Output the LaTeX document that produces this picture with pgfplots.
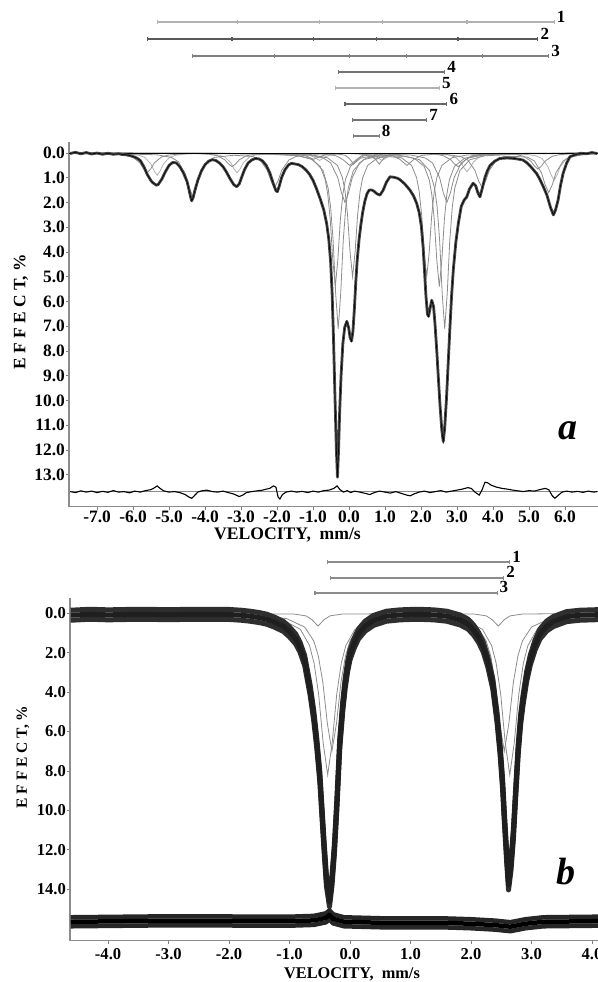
\documentclass[border=0pt]{standalone}
\usepackage{fontspec}
\setmainfont{Liberation Serif}
\usepackage{pgfplots}
\usepackage{pgfplotstable}
\pgfplotsset{compat=1.18}
\pgfkeys{/pgf/number format/assume math mode=true}

\pgfplotstableread{
x y
-7.75 0.02
-7.6 -0.03
-7.45 0.03
-7.3 -0.02
-7.15 0.04
-7.0 0.0
-6.85 0.05
-6.7 0.01
-6.55 0.05
-6.4 0.03
-6.3 0.06
-6.2 0.07
-6.1 0.1
-6.0 0.14
-5.9 0.2
-5.8 0.3
-5.7 0.55
-5.6 0.88
-5.5 1.12
-5.45 1.2
-5.4 1.25
-5.35 1.3
-5.3 1.27
-5.2 1.05
-5.1 0.75
-5.0 0.5
-4.9 0.38
-4.8 0.4
-4.7 0.55
-4.6 0.8
-4.5 1.15
-4.45 1.45
-4.4 1.78
-4.37 1.93
-4.33 1.8
-4.28 1.5
-4.2 1.1
-4.1 0.72
-4.0 0.47
-3.9 0.33
-3.8 0.27
-3.7 0.3
-3.6 0.4
-3.5 0.55
-3.4 0.78
-3.3 1.05
-3.2 1.28
-3.12 1.36
-3.05 1.25
-3.0 1.05
-2.9 0.66
-2.8 0.4
-2.7 0.28
-2.6 0.22
-2.5 0.24
-2.4 0.32
-2.3 0.5
-2.2 0.8
-2.1 1.25
-2.03 1.52
-1.99 1.56
-1.94 1.35
-1.87 0.98
-1.78 0.68
-1.68 0.48
-1.6 0.42
-1.5 0.44
-1.4 0.47
-1.3 0.55
-1.2 0.68
-1.1 0.85
-1.0 1.1
-0.9 1.45
-0.8 1.85
-0.7 2.3
-0.62 2.85
-0.56 3.5
-0.51 4.4
-0.47 5.6
-0.43 7.5
-0.39 9.8
-0.35 12.0
-0.32 13.1
-0.29 12.0
-0.26 10.5
-0.22 9.0
-0.17 7.7
-0.12 7.05
-0.06 6.8
-0.01 7.05
0.03 7.45
0.07 7.6
0.11 7.2
0.15 6.3
0.19 5.2
0.23 4.3
0.28 3.5
0.33 2.9
0.38 2.4
0.44 1.95
0.5 1.65
0.56 1.5
0.63 1.49
0.7 1.55
0.78 1.65
0.86 1.7
0.95 1.5
1.04 1.18
1.14 0.96
1.25 0.98
1.35 1.02
1.42 1.08
1.55 1.25
1.69 1.49
1.8 1.75
1.88 2.03
1.95 2.4
2.01 2.95
2.06 3.8
2.1 4.8
2.14 5.8
2.18 6.5
2.21 6.6
2.25 6.3
2.3 5.95
2.35 6.2
2.39 6.9
2.44 8.0
2.48 9.0
2.53 10.2
2.58 11.2
2.62 11.66
2.66 11.1
2.71 9.9
2.76 8.4
2.8 7.2
2.85 5.8
2.9 4.7
2.97 3.6
3.04 2.83
3.12 2.15
3.2 1.9
3.27 1.78
3.35 1.45
3.45 1.22
3.52 1.32
3.58 1.6
3.64 1.77
3.7 1.45
3.78 0.98
3.85 0.7
3.92 0.5
4.05 0.33
4.19 0.22
4.4 0.2
4.6 0.22
4.83 0.28
4.95 0.4
5.05 0.55
5.15 0.72
5.21 0.82
5.3 1.05
5.4 1.36
5.5 1.7
5.6 2.2
5.68 2.5
5.74 2.3
5.81 1.9
5.88 1.3
5.95 0.82
6.05 0.4
6.14 0.15
6.3 0.06
6.45 0.01
6.6 0.03
6.75 -0.02
6.9 0.02
}\dataA

\pgfplotstableread{
x y
-7.75 13.68
-7.6 13.72
-7.45 13.65
-7.3 13.7
-7.15 13.66
-7.0 13.72
-6.85 13.67
-6.7 13.71
-6.55 13.64
-6.4 13.7
-6.25 13.68
-6.1 13.73
-5.95 13.66
-5.8 13.7
-5.65 13.64
-5.5 13.6
-5.4 13.52
-5.33 13.45
-5.25 13.55
-5.15 13.65
-5.0 13.7
-4.85 13.68
-4.7 13.72
-4.55 13.8
-4.45 13.9
-4.37 13.95
-4.3 13.85
-4.2 13.7
-4.1 13.65
-3.95 13.62
-3.8 13.68
-3.65 13.7
-3.5 13.66
-3.35 13.72
-3.2 13.78
-3.05 13.88
-2.95 13.82
-2.85 13.72
-2.7 13.68
-2.55 13.65
-2.4 13.62
-2.3 13.58
-2.2 13.55
-2.1 13.45
-2.03 13.5
-1.97 13.9
-1.92 13.98
-1.85 13.8
-1.75 13.7
-1.6 13.66
-1.45 13.7
-1.3 13.67
-1.15 13.72
-1.0 13.66
-0.85 13.7
-0.7 13.64
-0.55 13.62
-0.42 13.55
-0.33 13.45
-0.25 13.6
-0.15 13.7
-0.05 13.64
0.05 13.72
0.15 13.66
0.3 13.7
0.45 13.75
0.58 13.8
0.7 13.72
0.85 13.66
1.0 13.7
1.15 13.74
1.3 13.68
1.45 13.75
1.6 13.82
1.7 13.85
1.8 13.78
1.95 13.7
2.1 13.66
2.25 13.72
2.4 13.68
2.55 13.64
2.7 13.7
2.85 13.66
3.0 13.62
3.15 13.58
3.3 13.52
3.4 13.55
3.5 13.7
3.62 13.82
3.7 13.6
3.78 13.3
3.85 13.32
3.95 13.42
4.1 13.5
4.25 13.55
4.4 13.58
4.55 13.62
4.7 13.65
4.85 13.68
5.0 13.64
5.15 13.66
5.3 13.6
5.45 13.55
5.55 13.6
5.65 13.85
5.72 13.95
5.8 13.85
5.92 13.7
6.05 13.66
6.2 13.7
6.35 13.67
6.5 13.71
6.65 13.66
6.8 13.7
6.9 13.68
}\residA

\pgfplotstableread{
x y
-4.62 0.1
-4.3 0.05
-4.0 0.08
-3.5 0.05
-3.0 0.07
-2.5 0.05
-2.0 0.06
-1.8 0.1
-1.65 0.15
-1.5 0.22
-1.38 0.3
-1.25 0.45
-1.1 0.67
-1.0 0.95
-0.9 1.3
-0.83 1.7
-0.75 2.4
-0.66 3.9
-0.6 5.2
-0.55 6.6
-0.5 8.3
-0.47 9.8
-0.43 11.8
-0.39 13.6
-0.34 14.63
-0.3 13.6
-0.26 12.0
-0.22 9.8
-0.17 6.6
-0.12 4.7
-0.08 3.55
-0.04 2.7
0.0 2.1
0.07 1.5
0.14 1.05
0.25 0.65
0.39 0.36
0.6 0.15
0.83 0.08
1.1 0.05
1.38 0.08
1.6 0.15
1.82 0.34
1.95 0.55
2.04 0.84
2.12 1.2
2.2 1.7
2.28 2.5
2.36 3.6
2.43 5.3
2.48 6.9
2.52 8.6
2.55 10.3
2.59 12.4
2.62 13.78
2.66 12.8
2.7 11.2
2.74 9.0
2.78 6.9
2.82 5.4
2.86 4.4
2.92 3.2
2.98 2.37
3.06 1.6
3.14 1.05
3.25 0.65
3.36 0.42
3.58 0.17
3.8 0.1
4.1 0.07
}\dataB

\pgfplotstableread{
x y
-4.62 15.65
-3.0 15.6
-1.0 15.62
-0.6 15.58
-0.4 15.45
-0.34 15.3
-0.28 15.5
-0.1 15.65
0.5 15.7
1.5 15.7
2.0 15.75
2.4 15.82
2.65 15.9
2.9 15.75
3.2 15.65
4.1 15.62
}\residB

\pgfplotsset{
  mb/.style={scale only axis, y dir=reverse,
    axis x line*=bottom, axis y line*=left,
    axis line style={black!45, line width=1.2bp},
    tick align=outside, major tick length=3bp,
    tick style={black!50, line width=0.8bp},
    clip=false,
    xticklabel style={/pgf/number format/fixed, /pgf/number format/fixed zerofill, /pgf/number format/precision=1, inner sep=0pt},
    yticklabel style={/pgf/number format/fixed, /pgf/number format/fixed zerofill, /pgf/number format/precision=1, inner sep=0pt},
  },
  comp/.style={black!45, line width=0.8bp},
  bar/.style={line width=1.1bp, mark=|, mark size=2.2bp, mark options={solid}},
}
\tikzset{barlab/.style={anchor=base west, inner sep=0pt, xshift=2.5bp, font=\fontsize{17bp}{19bp}\selectfont\bfseries}}

\begin{document}
\begin{tikzpicture}
\useasboundingbox (0,0) rectangle (598bp,982bp);

% ---------------- panel a ----------------
\begin{axis}[mb,
  at={(69bp,475.3bp)}, anchor=south west,
  width=529bp, height=364.8bp,
  xmin=-7.78, xmax=6.92, ymin=-0.45, ymax=14.29,
  xtick={-7,-6,...,6}, ytick={0,1,...,13},
  tick label style={font=\fontsize{17.4bp}{20bp}\selectfont\bfseries},
  xticklabel style={yshift=-1bp},
  yticklabel style={xshift=-1bp},
]
% splitting bars
\addplot[bar, black!30] coordinates {(-5.33,-5.293) (-3.11,-5.293) (-0.82,-5.293) (0.92,-5.293) (3.28,-5.293) (5.70,-5.293)};
\addplot[bar, black!65] coordinates {(-5.61,-4.606) (-3.25,-4.606) (-0.98,-4.606) (0.76,-4.606) (3.03,-4.606) (5.25,-4.606)};
\addplot[bar, black!50] coordinates {(-4.34,-3.919) (-2.07,-3.919) (0.02,-3.919) (1.61,-3.919) (3.70,-3.919) (5.55,-3.919)};
\addplot[bar, black!55] coordinates {(-0.30,-3.273) (2.66,-3.273)};
\addplot[bar, black!30] coordinates {(-0.38,-2.626) (2.51,-2.626)};
\addplot[bar, black!60] coordinates {(-0.11,-1.98) (2.72,-1.98)};
\addplot[bar, black!55] coordinates {(0.10,-1.333) (2.16,-1.333)};
\addplot[bar, black!50] coordinates {(0.13,-0.687) (0.84,-0.687)};
\node[barlab] at (axis cs:5.70,-5.293) {1};
\node[barlab] at (axis cs:5.25,-4.606) {2};
\node[barlab] at (axis cs:5.55,-3.919) {3};
\node[barlab] at (axis cs:2.66,-3.273) {4};
\node[barlab] at (axis cs:2.51,-2.626) {5};
\node[barlab] at (axis cs:2.72,-1.98) {6};
\node[barlab] at (axis cs:2.16,-1.333) {7};
\node[barlab] at (axis cs:0.84,-0.687) {8};

% component subspectra
\addplot[comp, black!30] coordinates {(-7.78,0.01) (-6.18,0.03) (-5.84,0.09) (-5.67,0.18) (-5.50,0.45) (-5.415,0.72) (-5.33,0.9) (-5.245,0.72) (-5.16,0.45) (-4.99,0.18) (-4.82,0.09) (-4.48,0.03) (-3.96,0.03) (-3.62,0.08) (-3.45,0.16) (-3.28,0.4) (-3.195,0.64) (-3.11,0.8) (-3.025,0.64) (-2.94,0.4) (-2.77,0.16) (-2.60,0.08) (-2.26,0.03) (-1.50,0.02) (-1.16,0.06) (-0.99,0.15) (-0.82,0.3) (-0.65,0.15) (-0.48,0.06) (-0.14,0.02) (0.24,0.02) (0.58,0.06) (0.75,0.15) (0.92,0.3) (1.09,0.15) (1.26,0.06) (1.60,0.02) (2.43,0.03) (2.77,0.075) (2.94,0.15) (3.11,0.375) (3.195,0.6) (3.28,0.75) (3.365,0.6) (3.45,0.375) (3.62,0.15) (3.79,0.075) (4.13,0.03) (4.85,0.04) (5.19,0.11) (5.36,0.22) (5.53,0.55) (5.615,0.88) (5.70,1.1) (5.785,0.88) (5.87,0.55) (6.04,0.22) (6.21,0.11) (6.55,0.04) (6.92,0.02)};
\addplot[comp] coordinates {(-7.78,0.01) (-6.61,0.03) (-6.21,0.08) (-6.01,0.16) (-5.81,0.4) (-5.71,0.64) (-5.61,0.8) (-5.51,0.64) (-5.41,0.4) (-5.21,0.16) (-5.01,0.08) (-4.61,0.03) (-4.25,0.02) (-3.85,0.055) (-3.65,0.11) (-3.45,0.275) (-3.35,0.44) (-3.25,0.55) (-3.15,0.44) (-3.05,0.275) (-2.85,0.11) (-2.65,0.055) (-2.25,0.02) (-1.78,0.015) (-1.38,0.05) (-1.18,0.125) (-0.98,0.25) (-0.78,0.125) (-0.58,0.05) (-0.18,0.015) (-0.04,0.015) (0.36,0.05) (0.56,0.125) (0.76,0.25) (0.96,0.125) (1.16,0.05) (1.56,0.015) (2.03,0.02) (2.43,0.055) (2.63,0.11) (2.83,0.275) (2.93,0.44) (3.03,0.55) (3.13,0.44) (3.23,0.275) (3.43,0.11) (3.63,0.055) (4.03,0.02) (4.25,0.025) (4.65,0.065) (4.85,0.13) (5.05,0.325) (5.15,0.52) (5.25,0.65) (5.35,0.52) (5.45,0.325) (5.65,0.13) (5.85,0.065) (6.25,0.025) (6.92,0.01)};
\addplot[comp] coordinates {(-7.78,0.02) (-5.9,0.05) (-5.34,0.07) (-4.94,0.175) (-4.74,0.35) (-4.54,0.875) (-4.44,1.4) (-4.34,1.75) (-4.24,1.4) (-4.14,0.875) (-3.94,0.35) (-3.74,0.175) (-3.2,0.09) (-2.67,0.14) (-2.47,0.28) (-2.27,0.7) (-2.17,1.12) (-2.07,1.4) (-1.97,1.12) (-1.87,0.7) (-1.67,0.28) (-1.47,0.14) (-1.07,0.055) (-0.78,0.04) (-0.38,0.1) (-0.18,0.25) (0.02,0.5) (0.22,0.25) (0.42,0.1) (0.82,0.05) (1.21,0.1) (1.41,0.25) (1.61,0.5) (1.81,0.25) (2.01,0.1) (2.41,0.04) (2.70,0.055) (3.10,0.14) (3.30,0.28) (3.50,0.7) (3.60,1.12) (3.70,1.4) (3.80,1.12) (3.90,0.7) (4.10,0.28) (4.30,0.14) (4.62,0.14) (4.95,0.16) (5.15,0.32) (5.35,0.8) (5.45,1.28) (5.55,1.6) (5.65,1.28) (5.75,0.8) (5.95,0.32) (6.15,0.16) (6.55,0.06) (6.92,0.03)};
\addplot[comp] coordinates {(-7.78,0.0) (-4,0.01) (-2.5,0.03) (-1.42,0.11) (-1.0,0.27) (-0.72,0.71) (-0.58,1.42) (-0.51,2.19) (-0.44,3.55) (-0.37,5.68) (-0.30,7.1) (-0.23,5.68) (-0.16,3.55) (-0.09,2.19) (-0.02,1.42) (0.12,0.71) (0.40,0.27) (0.82,0.13) (1.18,0.12) (1.54,0.13) (1.96,0.27) (2.24,0.71) (2.38,1.42) (2.45,2.19) (2.52,3.55) (2.59,5.68) (2.66,7.1) (2.73,5.68) (2.80,3.55) (2.87,2.19) (2.94,1.42) (3.08,0.71) (3.36,0.27) (3.78,0.11) (5,0.03) (6.92,0.01)};
\addplot[comp] coordinates {(-7.78,0.0) (-4,0.01) (-2.5,0.02) (-1.50,0.08) (-1.08,0.21) (-0.80,0.54) (-0.66,1.08) (-0.59,1.66) (-0.52,2.7) (-0.45,4.32) (-0.38,5.4) (-0.31,4.32) (-0.24,2.7) (-0.17,1.66) (-0.10,1.08) (0.04,0.54) (0.32,0.21) (0.74,0.09) (1.065,0.09) (1.39,0.09) (1.81,0.21) (2.09,0.54) (2.23,1.08) (2.30,1.66) (2.37,2.7) (2.44,4.32) (2.51,5.4) (2.58,4.32) (2.65,2.7) (2.72,1.66) (2.79,1.08) (2.93,0.54) (3.21,0.21) (3.63,0.08) (5,0.02) (6.92,0.01)};
\addplot[comp] coordinates {(-7.78,0.0) (-4,0.01) (-1.71,0.03) (-1.11,0.08) (-0.71,0.2) (-0.51,0.4) (-0.31,1.0) (-0.21,1.6) (-0.11,2.0) (-0.01,1.6) (0.09,1.0) (0.29,0.4) (0.49,0.2) (0.89,0.08) (1.3,0.06) (1.72,0.08) (2.12,0.2) (2.32,0.4) (2.52,1.0) (2.62,1.6) (2.72,2.0) (2.82,1.6) (2.92,1.0) (3.12,0.4) (3.32,0.2) (3.72,0.08) (4.32,0.03) (6.92,0.0)};
\addplot[comp] coordinates {(-7.78,0.0) (-4,0.01) (-1.02,0.08) (-0.60,0.19) (-0.32,0.5) (-0.18,1.0) (-0.11,1.54) (-0.04,2.5) (0.03,4.0) (0.10,5.0) (0.17,4.0) (0.24,2.5) (0.31,1.54) (0.38,1.0) (0.52,0.5) (0.80,0.19) (1.13,0.15) (1.46,0.19) (1.74,0.5) (1.88,1.0) (1.95,1.54) (2.02,2.5) (2.09,4.0) (2.16,5.0) (2.23,4.0) (2.30,2.5) (2.37,1.54) (2.44,1.0) (2.58,0.5) (2.86,0.19) (3.28,0.08) (5,0.01) (6.92,0.0)};
\addplot[comp] coordinates {(-7.78,0) (-0.35,0.03) (-0.11,0.09) (0.01,0.22) (0.13,0.45) (0.25,0.22) (0.37,0.09) (0.485,0.06) (0.60,0.09) (0.72,0.22) (0.84,0.45) (0.96,0.22) (1.08,0.09) (1.32,0.03) (6.92,0)};
% baselines
\addplot[black, line width=0.9bp] coordinates {(-7.78,0) (6.92,0)};
\addplot[black!45, line width=0.7bp] coordinates {(-7.78,13.68) (6.92,13.68)};
% data and fit
\addplot[black!72, line width=2.8bp, line join=round] table {\dataA};
\addplot[black, line width=0.6bp] table {\dataA};
% residual
\addplot[black, line width=1.1bp] table {\residA};
\node[font=\fontsize{38bp}{40bp}\selectfont\bfseries\itshape] at (axis cs:6.08,11.23) {a};
\end{axis}

% ---------------- panel b ----------------
\begin{axis}[mb,
  at={(70bp,41.5bp)}, anchor=south west,
  width=528bp, height=343bp,
  xmin=-4.63, xmax=4.099, ymin=-0.8, ymax=16.6,
  xtick={-4,-3,...,4}, ytick={0,2,...,14},
  tick label style={font=\fontsize{16.6bp}{19bp}\selectfont\bfseries},
  xticklabel style={yshift=-4.5bp},
  yticklabel style={xshift=-1bp},
]
\addplot[bar, black!45] coordinates {(-0.38,-2.6) (2.64,-2.6)};
\addplot[bar, black!45] coordinates {(-0.32,-1.79) (2.54,-1.79)};
\addplot[bar, black!45] coordinates {(-0.58,-1.03) (2.43,-1.03)};
\node[barlab] at (axis cs:2.64,-2.6) {1};
\node[barlab] at (axis cs:2.54,-1.79) {2};
\node[barlab] at (axis cs:2.43,-1.03) {3};

\addplot[comp] coordinates {(-4.63,0.03) (-3,0.06) (-1.57,0.13) (-1.12,0.32) (-0.82,0.82) (-0.67,1.64) (-0.595,2.53) (-0.52,4.1) (-0.445,6.56) (-0.37,8.2) (-0.295,6.56) (-0.22,4.1) (-0.145,2.53) (-0.07,1.64) (0.08,0.82) (0.38,0.32) (0.83,0.15) (1.135,0.16) (1.44,0.15) (1.89,0.32) (2.19,0.82) (2.34,1.64) (2.415,2.53) (2.49,4.1) (2.565,6.56) (2.64,8.2) (2.715,6.56) (2.79,4.1) (2.865,2.53) (2.94,1.64) (3.09,0.82) (3.39,0.32) (3.84,0.13) (4.099,0.09)};
\addplot[comp] coordinates {(-4.63,0.03) (-3,0.05) (-1.50,0.11) (-1.05,0.27) (-0.75,0.7) (-0.60,1.4) (-0.525,2.16) (-0.45,3.5) (-0.375,5.6) (-0.30,7.0) (-0.225,5.6) (-0.15,3.5) (-0.075,2.16) (0.0,1.4) (0.15,0.7) (0.45,0.27) (0.90,0.13) (1.125,0.13) (1.35,0.13) (1.80,0.27) (2.10,0.7) (2.25,1.4) (2.325,2.16) (2.40,3.5) (2.475,5.6) (2.55,7.0) (2.625,5.6) (2.70,3.5) (2.775,2.16) (2.85,1.4) (3.00,0.7) (3.30,0.27) (3.75,0.11) (4.099,0.07)};
\addplot[comp] coordinates {(-4.63,0) (-0.93,0.04) (-0.73,0.13) (-0.63,0.325) (-0.53,0.65) (-0.43,0.325) (-0.33,0.13) (-0.13,0.04) (0.96,0.02) (2.05,0.04) (2.25,0.13) (2.35,0.325) (2.45,0.65) (2.55,0.325) (2.65,0.13) (2.85,0.04) (4.099,0)};

\addplot[black!82, line width=5bp, line join=round, yshift=5bp] table {\dataB};
\addplot[black!82, line width=5bp, line join=round, yshift=-5bp] table {\dataB};
\addplot[black!88, line width=5bp, line join=round] table {\dataB};
\addplot[black!85, line width=4.5bp, line join=round, yshift=4.5bp] table {\residB};
\addplot[black!85, line width=4.5bp, line join=round, yshift=-4.5bp] table {\residB};
\addplot[black, line width=4.5bp, line join=round] table {\residB};
\node[font=\fontsize{38bp}{40bp}\selectfont\bfseries\itshape] at (axis cs:3.57,13.12) {b};
\end{axis}

% axis labels
\node[anchor=base, inner sep=0pt, font=\fontsize{17.6bp}{20bp}\selectfont\bfseries] at (287.5bp,442bp) {VELOCITY,\ \ mm/s};
\node[rotate=90, inner sep=0pt, font=\fontsize{17.4bp}{20bp}\selectfont\bfseries] at (21bp,670bp) {E F F E C T, \%};
\node[anchor=base, inner sep=0pt, font=\fontsize{16.3bp}{19bp}\selectfont\bfseries] at (352bp,3.5bp) {VELOCITY,\ \ mm/s};
\node[rotate=90, inner sep=0pt, font=\fontsize{15.5bp}{18bp}\selectfont\bfseries] at (23bp,225bp) {E F F E C T, \%};
\end{tikzpicture}
\end{document}
